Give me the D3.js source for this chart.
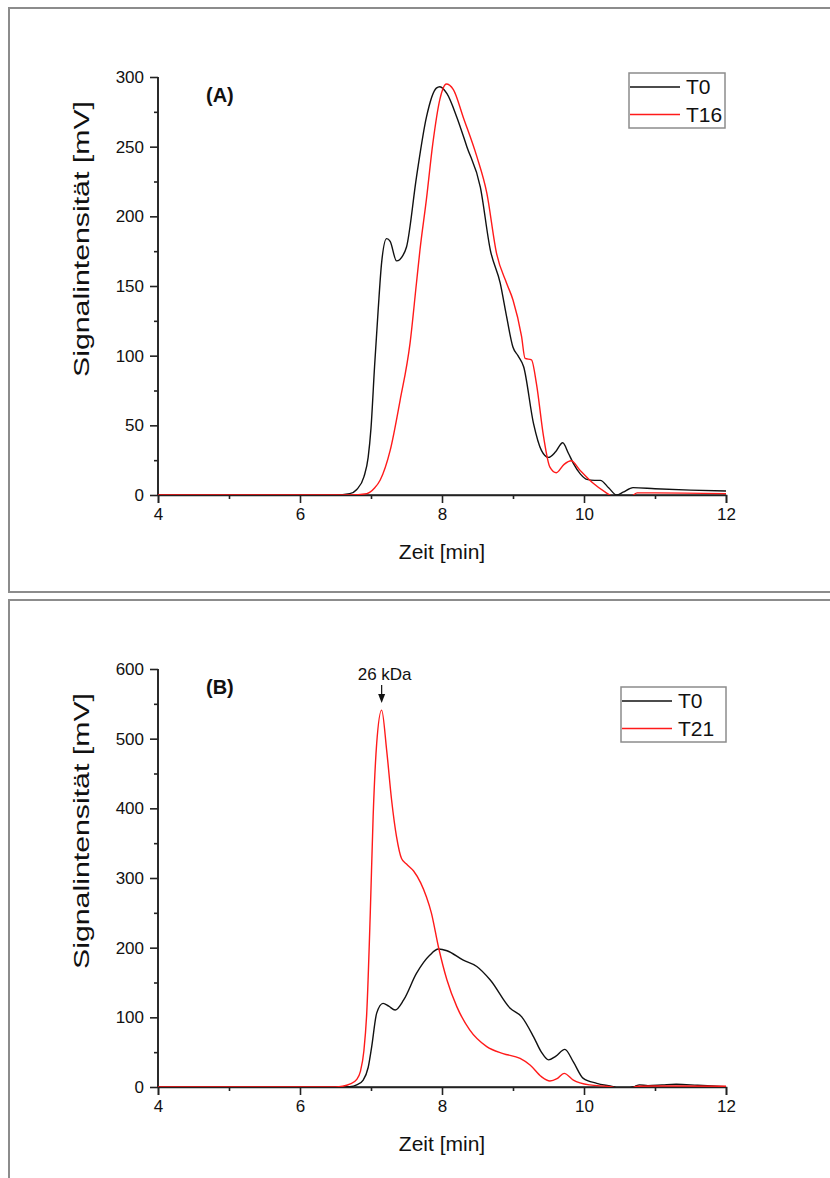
<!DOCTYPE html>
<html>
<head>
<meta charset="utf-8">
<script src="https://cdn.jsdelivr.net/npm/d3@7/dist/d3.min.js"></script>
<style>
  html, body { margin: 0; padding: 0; background: #fff; }
  svg { display: block; font-family: "Liberation Sans", Arial, sans-serif; }
</style>
</head>
<body>
<svg id="chart" width="830" height="1178"></svg>
<script>
// Retention time axis [min]
const timeDomain = [4, 12];
const timeTicks = [4, 6, 8, 10, 12];

// Panel A: chromatograms T0 and T16
const aT0Time  = [4, 6.5, 6.7, 6.8, 6.9, 6.96, 7.0, 7.05, 7.1, 7.15, 7.22, 7.27, 7.36, 7.45, 7.5, 7.64, 7.78, 7.92, 7.97, 8.07, 8.21, 8.35, 8.54, 8.68, 8.82, 8.91, 9.0, 9.07, 9.15, 9.29, 9.4, 9.5, 9.6, 9.7, 9.78, 9.85, 9.95, 10.04, 10.15, 10.23, 10.35, 10.46, 10.55, 10.69, 11, 11.5, 12];
const aT0Value = [0, 0, 1, 4, 13, 27, 48, 92, 132, 167, 184, 182, 168, 172, 178, 228, 271, 292, 293, 288, 271, 250, 221, 176, 152, 128, 106, 100, 92, 51, 32, 27, 31, 37.5, 30, 22.7, 15, 11.2, 10.5, 10.5, 5, 0, 2, 5.3, 4.5, 3.5, 2.9];
const aT16Time  = [4, 6.7, 6.94, 7.05, 7.13, 7.27, 7.41, 7.55, 7.64, 7.69, 7.78, 7.87, 7.97, 8.06, 8.16, 8.3, 8.49, 8.63, 8.77, 8.91, 9.0, 9.12, 9.17, 9.26, 9.33, 9.43, 9.52, 9.61, 9.72, 9.82, 9.94, 10.13, 10.3, 10.4, 10.55, 10.68, 10.75, 11, 12];
const aT16Value = [0, 0, 1, 5, 10.8, 32, 68, 109, 152, 176, 212, 252, 284, 295, 291, 271, 243, 217, 173, 152, 140, 114, 98, 97, 80, 42, 20, 16, 22, 24.6, 18, 8.4, 2, -1, -3, -0.5, 1.5, 1.5, 1];
const aTicks = [0, 50, 100, 150, 200, 250, 300];

// Panel B: chromatograms T0 and T21
const bT0Time  = [4, 6.5, 6.7, 6.8, 6.89, 6.96, 7.01, 7.08, 7.17, 7.25, 7.34, 7.46, 7.64, 7.83, 7.95, 8.07, 8.3, 8.49, 8.68, 8.96, 9.12, 9.29, 9.4, 9.5, 9.6, 9.73, 9.85, 9.99, 10.18, 10.41, 10.5, 10.65, 10.72, 10.78, 10.9, 11.1, 11.3, 11.6, 12];
const bT0Value = [0, 0, 0.5, 3, 10, 28, 58, 106, 120, 116, 110.5, 125, 163, 189.5, 198, 195.6, 182, 173, 153.6, 113, 101, 72, 50, 39, 44, 54, 36, 12.4, 5.3, 0.5, -2, -1, 1, 3, 2, 3, 4, 2.5, 0.5];
const bT21Time  = [4, 6.5, 6.6, 6.7, 6.8, 6.85, 6.9, 6.94, 6.99, 7.03, 7.08, 7.15, 7.22, 7.29, 7.36, 7.43, 7.5, 7.6, 7.7, 7.78, 7.85, 7.95, 8.07, 8.21, 8.39, 8.63, 8.86, 9.1, 9.24, 9.4, 9.52, 9.62, 9.72, 9.85, 10.08, 10.37, 10.5, 10.68, 10.75, 11, 12];
const bT21Value = [0, 0, 1, 4, 11, 22, 52, 106, 250, 388, 493, 541, 484, 412, 359, 328, 320, 310, 293, 273, 250, 201, 153.6, 115, 82, 58, 48, 41, 31.6, 14.8, 8.6, 12, 19.6, 10, 3, 0.5, -2, -1, 1, 1.5, 1];
const bTicks = [0, 100, 200, 300, 400, 500, 600];

// Annotation in panel B
const markerLabel = "26 kDa";
const markerTime = 7.15;
const markerValue = 541;

const svg = d3.select("#chart");
const zip = (xs, ys) => xs.map((x, i) => [x, ys[i]]);

function drawPanel(p) {
  const g = svg.append("g");

  // outer frame
  g.append("rect")
    .attr("x", p.frame[0]).attr("y", p.frame[1])
    .attr("width", p.frame[2]).attr("height", p.frame[3])
    .attr("fill", "none").attr("stroke", "#8c8c8c").attr("stroke-width", 2);

  const x = d3.scaleLinear().domain(timeDomain).range([158, 726]);
  const y = d3.scaleLinear().domain([0, p.yMax]).range([p.y0, p.y0 - 418]);

  const clipId = "clip-" + p.name;
  g.append("clipPath").attr("id", clipId)
    .append("rect").attr("x", 158).attr("y", p.y0 - 430)
    .attr("width", 570).attr("height", 430);

  const line = d3.line().x(d => x(d[0])).y(d => y(d[1])).curve(d3.curveMonotoneX);

  // x axis: major + minor ticks
  const xAxis = g.append("g").attr("transform", `translate(0,${p.y0})`);
  xAxis.call(d3.axisBottom(x).tickValues(d3.range(5, 12, 2)).tickSize(4).tickFormat(""));
  xAxis.append("g").call(d3.axisBottom(x).tickValues(timeTicks).tickSize(8).tickPadding(5).tickFormat(d3.format("d")));
  xAxis.selectAll("path.domain").attr("stroke", "#222").attr("stroke-width", 1.6);
  xAxis.selectAll("line").attr("stroke", "#222").attr("stroke-width", 1.6);
  xAxis.selectAll("text").attr("font-size", 17).attr("fill", "#111").attr("font-family", "Liberation Sans, Arial, sans-serif");
  xAxis.select("path.domain").attr("d", `M158,0H726`);

  // y axis
  const yAxis = g.append("g").attr("transform", "translate(158,0)");
  const minorY = d3.range(0, p.yMax + 1, p.yStep / 2).filter(v => v % p.yStep !== 0);
  yAxis.call(d3.axisLeft(y).tickValues(minorY).tickSize(4).tickFormat(""));
  yAxis.append("g").call(d3.axisLeft(y).tickValues(p.yTicks).tickSize(8).tickPadding(6).tickFormat(d3.format("d")));
  yAxis.selectAll("path.domain").attr("stroke", "#222").attr("stroke-width", 1.6);
  yAxis.selectAll("line").attr("stroke", "#222").attr("stroke-width", 1.6);
  yAxis.selectAll("text").attr("font-size", 17).attr("fill", "#111").attr("font-family", "Liberation Sans, Arial, sans-serif");
  yAxis.selectAll("path.domain").attr("d", `M0,${p.y0}V${p.y0 - 418}`);

  // curves
  const curves = g.append("g").attr("clip-path", `url(#${clipId})`);
  p.series.forEach(s => {
    curves.append("path")
      .datum(zip(s.t, s.v))
      .attr("fill", "none")
      .attr("stroke", s.color)
      .attr("stroke-width", 1.4)
      .attr("d", line);
  });

  // axis titles
  g.append("text")
    .attr("x", 442).attr("y", p.y0 + 64)
    .attr("text-anchor", "middle").attr("font-size", 21).attr("fill", "#111")
    .text("Zeit [min]");
  g.append("text")
    .attr("transform", `translate(89,${p.y0 - 256}) rotate(-90)`)
    .attr("text-anchor", "middle").attr("font-size", 22).attr("fill", "#111")
    .attr("textLength", 276).attr("lengthAdjust", "spacingAndGlyphs")
    .text("Signalintensität [mV]");

  // panel letter
  g.append("text")
    .attr("x", 206).attr("y", p.y0 - 393)
    .attr("font-size", 20).attr("font-weight", "bold").attr("fill", "#111")
    .text(p.letter);

  // legend
  const lg = g.append("g");
  lg.append("rect")
    .attr("x", p.legend[0]).attr("y", p.legend[1])
    .attr("width", p.legend[2]).attr("height", 55)
    .attr("fill", "#fff").attr("stroke", "#8c8c8c").attr("stroke-width", 1.5);
  p.series.forEach((s, i) => {
    const ly = p.legend[1] + 14 + i * 27.5;
    lg.append("line")
      .attr("x1", p.legend[0] + 1).attr("x2", p.legend[0] + 51)
      .attr("y1", ly).attr("y2", ly)
      .attr("stroke", s.color).attr("stroke-width", 1.4);
    lg.append("text")
      .attr("x", p.legend[0] + 57).attr("y", ly + 7)
      .attr("font-size", 21).attr("fill", "#111")
      .text(s.name);
  });

  return { x, y, g };
}

drawPanel({
  name: "A", letter: "(A)", y0: 495, yMax: 300, yStep: 50, yTicks: aTicks,
  frame: [9, 8, 840, 584], legend: [629, 73, 96],
  series: [
    { name: "T0", t: aT0Time, v: aT0Value, color: "#111111" },
    { name: "T16", t: aT16Time, v: aT16Value, color: "#ff1a1a" }
  ]
});

const pb = drawPanel({
  name: "B", letter: "(B)", y0: 1087, yMax: 600, yStep: 100, yTicks: bTicks,
  frame: [9, 600, 840, 600], legend: [621, 687, 105],
  series: [
    { name: "T0", t: bT0Time, v: bT0Value, color: "#111111" },
    { name: "T21", t: bT21Time, v: bT21Value, color: "#ff1a1a" }
  ]
});

// marker arrow with label above the main peak
const mx = pb.x(markerTime);
const my = pb.y(markerValue);
pb.g.append("text")
  .attr("x", mx + 3).attr("y", my - 30)
  .attr("text-anchor", "middle").attr("font-size", 17).attr("fill", "#111")
  .text(markerLabel);
pb.g.append("line")
  .attr("x1", mx).attr("x2", mx).attr("y1", my - 25).attr("y2", my - 14)
  .attr("stroke", "#111").attr("stroke-width", 1.2);
pb.g.append("path")
  .attr("d", `M${mx - 3.5},${my - 16}L${mx + 3.5},${my - 16}L${mx},${my - 7}Z`)
  .attr("fill", "#111");
</script>
</body>
</html>
